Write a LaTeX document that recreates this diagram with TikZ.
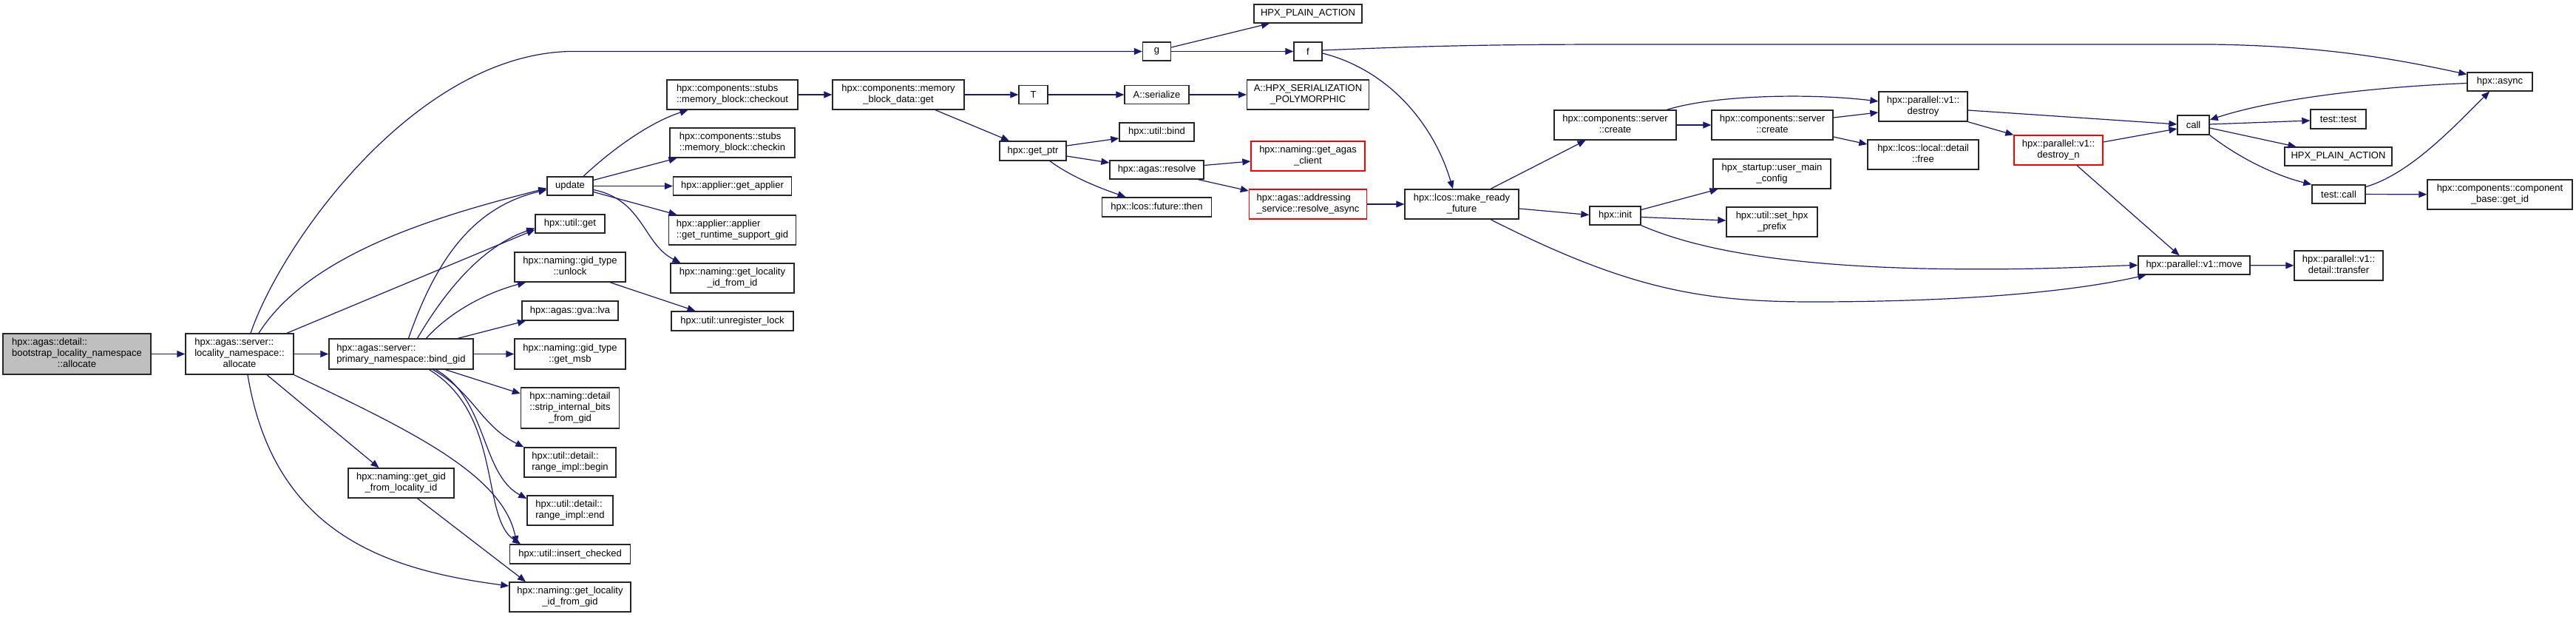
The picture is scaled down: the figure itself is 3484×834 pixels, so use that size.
\documentclass[tikz,border=0pt]{standalone}
\usepackage{fontspec}
\setmainfont{Liberation Sans}
\usetikzlibrary{arrows.meta}
\definecolor{edgec}{RGB}{25,25,112}
\definecolor{rootgray}{RGB}{191,191,191}
\definecolor{trunc}{RGB}{255,0,0}
\newcommand{\ltwo}[2]{\begin{tabular}{@{}l@{}}#1\\\multicolumn{1}{@{}c@{}}{#2}\end{tabular}}
\newcommand{\lthree}[3]{\begin{tabular}{@{}l@{}}#1\\#2\\\multicolumn{1}{@{}c@{}}{#3}\end{tabular}}
\begin{document}
\begin{tikzpicture}[x=1pt,y=-1pt,
  nd/.style={draw=black!85, line width=1.4pt, fill=white, inner sep=0pt, rectangle,
    font=\fontsize{13}{15}\selectfont},
  wh/.style 2 args={minimum width=#1pt, minimum height=#2pt},
  red/.style={draw=trunc},
  ed/.style={draw=edgec, line width=1.2pt, -{Triangle[length=11pt,width=9pt]}, fill=none}]
\useasboundingbox (0,0) rectangle (3484,834);
% nodes
\node[nd, wh={200}{55}, fill=rootgray] (root) at (104,478.5) {\lthree{hpx::agas::detail::}{bootstrap\_locality\_namespace}{::allocate}};
\node[nd, wh={146}{55}] (loc) at (324,478.5) {\lthree{hpx::agas::server::}{locality\_namespace::}{allocate}};
\node[nd, wh={195}{41}] (bind) at (542.5,478.5) {\ltwo{hpx::agas::server::}{primary\_namespace::bind\_gid}};
\node[nd, wh={143}{40}] (ggfl) at (542.5,653) {\ltwo{hpx::naming::get\_gid}{\_from\_locality\_id}};
\node[nd, wh={62}{25}] (update) at (771,251.5) {update};
\node[nd, wh={94}{25}] (uget) at (771,302.5) {hpx::util::get};
\node[nd, wh={150}{40}] (unlock) at (771,361) {\ltwo{hpx::naming::gid\_type}{::unlock}};
\node[nd, wh={130}{26}] (lva) at (771,420) {hpx::agas::gva::lva};
\node[nd, wh={150}{41}] (getmsb) at (771,478.5) {\ltwo{hpx::naming::gid\_type}{::get\_msb}};
\node[nd, wh={133}{55}] (strip) at (771,551.5) {\lthree{hpx::naming::detail}{::strip\_internal\_bits}{\_from\_gid}};
\node[nd, wh={124}{40}] (rbegin) at (771,625) {\ltwo{hpx::util::detail::}{range\_impl::begin}};
\node[nd, wh={116}{40}] (rend) at (771,690) {\ltwo{hpx::util::detail::}{range\_impl::end}};
\node[nd, wh={163}{26}] (insck) at (771,749) {hpx::util::insert\_checked};
\node[nd, wh={164}{40}] (glfg) at (771,807) {\ltwo{hpx::naming::get\_locality}{\_id\_from\_gid}};
\node[nd, wh={177}{40}] (checkout) at (990.5,128) {\ltwo{hpx::components::stubs}{::memory\_block::checkout}};
\node[nd, wh={169}{40}] (checkin) at (990.5,193) {\ltwo{hpx::components::stubs}{::memory\_block::checkin}};
\node[nd, wh={160}{25}] (getapp) at (990.5,251.5) {hpx::applier::get\_applier};
\node[nd, wh={172}{40}] (rsg) at (990.5,311) {\ltwo{hpx::applier::applier}{::get\_runtime\_support\_gid}};
\node[nd, wh={167}{40}] (glfi) at (990.5,376) {\ltwo{hpx::naming::get\_locality}{\_id\_from\_id}};
\node[nd, wh={165}{26}] (unreg) at (990.5,434) {hpx::util::unregister\_lock};
\node[nd, wh={178}{40}] (mbd) at (1215,128) {\ltwo{hpx::components::memory}{\_block\_data::get}};
\node[nd, wh={39}{25}] (T) at (1397.5,128) {T};
\node[nd, wh={90}{26}] (getptr) at (1397,204) {hpx::get\_ptr};
\node[nd, wh={38}{25}] (g) at (1564.5,69.5) {g};
\node[nd, wh={87}{25}] (aser) at (1564.5,128) {A::serialize};
\node[nd, wh={101}{25}] (bindb) at (1564.5,178.5) {hpx::util::bind};
\node[nd, wh={127}{25}] (resolve) at (1564.5,229.5) {hpx::agas::resolve};
\node[nd, wh={148}{26}] (then) at (1564.5,280) {hpx::lcos::future::then};
\node[nd, wh={146}{25}] (plainA) at (1769,18.5) {HPX\_PLAIN\_ACTION};
\node[nd, wh={38}{25}] (f) at (1769,69.5) {f};
\node[nd, wh={165}{40}] (poly) at (1769,128) {\ltwo{A::HPX\_SERIALIZATION}{\_POLYMORPHIC}};
\node[nd, red, wh={154}{40}] (agasc) at (1769,211) {\ltwo{hpx::naming::get\_agas}{\_client}};
\node[nd, red, wh={159}{40}] (rasync) at (1769,276) {\ltwo{hpx::agas::addressing}{\_service::resolve\_async}};
\node[nd, wh={154}{40}] (mrf) at (1977,276) {\ltwo{hpx::lcos::make\_ready}{\_future}};
\node[nd, wh={165}{40}] (createA) at (2184.5,169) {\ltwo{hpx::components::server}{::create}};
\node[nd, wh={69}{25}] (init) at (2184.5,291.5) {hpx::init};
\node[nd, wh={164}{40}] (createB) at (2397,169) {\ltwo{hpx::components::server}{::create}};
\node[nd, wh={159}{40}] (umc) at (2396.5,235) {\ltwo{hpx\_startup::user\_main}{\_config}};
\node[nd, wh={123}{40}] (shp) at (2396.5,300) {\ltwo{hpx::util::set\_hpx}{\_prefix}};
\node[nd, wh={120}{40}] (destroy) at (2601,144) {\ltwo{hpx::parallel::v1::}{destroy}};
\node[nd, wh={150}{40}] (free) at (2601,209) {\ltwo{hpx::lcos::local::detail}{::free}};
\node[nd, red, wh={120}{40}] (destroyn) at (2784,203) {\ltwo{hpx::parallel::v1::}{destroy\_n}};
\node[nd, wh={151}{25}] (move) at (2967.5,358.5) {hpx::parallel::v1::move};
\node[nd, wh={43}{26}] (call) at (2966.5,169) {call};
\node[nd, wh={75}{26}] (ttest) at (3162.5,161) {test::test};
\node[nd, wh={145}{25}] (plainB) at (3162.5,211.5) {HPX\_PLAIN\_ACTION};
\node[nd, wh={72}{25}] (tcall) at (3163,262.5) {test::call};
\node[nd, wh={120}{40}] (transfer) at (3163,359) {\ltwo{hpx::parallel::v1::}{detail::transfer}};
\node[nd, wh={88}{25}] (async) at (3381,110.5) {hpx::async};
\node[nd, wh={196}{40}] (getid) at (3381,263) {\ltwo{hpx::components::component}{\_base::get\_id}};
% edges
\draw[ed] (root) -- (loc);
\draw[ed] (loc) -- (bind);
\draw[ed] ([xshift=15pt]loc.north) .. controls (380,330) and (560,75) .. (770,69.5) -- (g.west);
\draw[ed] ([xshift=26pt]loc.north) .. controls (420,340) and (600,290) .. ([yshift=-3pt]update.west);
\draw[ed] ([xshift=64pt]loc.north) -- ([yshift=-8pt]uget.west);
\draw[ed] ([xshift=37pt]loc.south) -- ([xshift=-30pt]ggfl.north);
\draw[ed] (loc.south east) .. controls (550,580) and (680,640) .. ([xshift=-72pt]insck.north);
\draw[ed] ([xshift=11pt]loc.south) .. controls (370,720) and (520,770) .. ([yshift=15pt]glfg.west);
\draw[ed] ([xshift=22pt]ggfl.south) -- ([xshift=-60pt]glfg.north);
\draw[ed] ([xshift=10pt]bind.north) .. controls (590,350) and (640,280) .. ([yshift=-5pt]update.west);
\draw[ed] ([xshift=22pt]bind.north) .. controls (610,380) and (660,330) .. ([yshift=-6pt]uget.west);
\draw[ed] ([xshift=34pt]bind.north) .. controls (610,420) and (660,395) .. ([xshift=-60pt]unlock.south);
\draw[ed] ([xshift=77pt]bind.north) -- ([xshift=-60pt]lva.south);
\draw[ed] (bind) -- (getmsb);
\draw[ed] ([xshift=60pt]bind.south) -- ([yshift=19.5pt]strip.west);
\draw[ed] ([xshift=43pt]bind.south) .. controls (640,530) and (650,575) .. (rbegin.north west);
\draw[ed] ([xshift=47pt]bind.south) .. controls (660,540) and (650,640) .. ([yshift=16pt]rend.west);
\draw[ed] ([xshift=38pt]bind.south) .. controls (680,560) and (650,700) .. ([xshift=-67pt]insck.north);
\draw[ed] ([xshift=18pt]update.north) .. controls (830,200) and (880,165) .. ([xshift=-60pt]checkout.south);
\draw[ed] ([yshift=8pt]update.east) -- ([xshift=-75pt]checkin.south);
\draw[ed] (update) -- (getapp);
\draw[ed] ([yshift=-8pt]update.east) -- ([xshift=-75pt]rsg.north);
\draw[ed] ([yshift=-5pt]update.east) .. controls (870,270) and (870,330) .. ([xshift=-70pt]glfi.north);
\draw[ed] ([xshift=54pt]unlock.south) -- ([xshift=-50pt]unreg.north);
\draw[ed] (checkout) -- (mbd);
\draw[ed] (mbd) -- (T);
\draw[ed] ([xshift=50pt]mbd.south) -- ([xshift=-32pt]getptr.north);
\draw[ed] (T) -- (aser);
\draw[ed] (aser) -- (poly);
\draw[ed] ([yshift=7pt]getptr.east) -- ([yshift=-8.5pt]bindb.west);
\draw[ed] ([yshift=-7pt]getptr.east) -- ([yshift=9.5pt]resolve.west);
\draw[ed] ([xshift=23pt]getptr.south) .. controls (1450,240) and (1490,255) .. ([xshift=-42pt]then.north);
\draw[ed] ([yshift=6pt]resolve.east) -- ([yshift=-7pt]agasc.west);
\draw[ed] ([xshift=56pt]resolve.south) -- ([yshift=18pt]rasync.west);
\draw[ed] (rasync) -- (mrf);
\draw[ed] ([yshift=5.5pt]g.east) -- ([xshift=-52pt]plainA.south);
\draw[ed] (g) -- (f);
\draw[ed] ([yshift=1.5pt]f.east) .. controls (1950,61) and (2050,60) .. (2200,60) -- (2990,60) .. controls (3150,62) and (3250,82) .. ([yshift=10pt]async.west);
\draw[ed] ([yshift=-2.5pt]f.east) .. controls (1880,95) and (1940,170) .. ([xshift=-12pt]mrf.north);
\draw[ed] ([xshift=39pt]mrf.north) -- ([xshift=-40pt]createA.south);
\draw[ed] ([yshift=-6pt]mrf.east) -- ([yshift=1pt]init.west);
\draw[ed] ([xshift=39pt]mrf.south) .. controls (2200,390) and (2300,408) .. (2450,408) .. controls (2650,408) and (2800,395) .. ([xshift=-65pt]move.south);
\draw[ed] (createA) -- (createB);
\draw[ed] ([xshift=70pt]createA.north) .. controls (2320,128) and (2450,126) .. ([yshift=7pt]destroy.west);
\draw[ed] ([yshift=10pt]createB.east) -- ([yshift=-8pt]destroy.west);
\draw[ed] ([yshift=-16pt]createB.east) -- ([yshift=14pt]free.west);
\draw[ed] ([yshift=-5pt]destroy.east) -- ([yshift=1pt]call.west);
\draw[ed] (destroy.south east) -- (destroyn.north west);
\draw[ed] ([yshift=11pt]destroyn.east) -- ([yshift=-5pt]call.west);
\draw[ed] ([xshift=25pt]destroyn.south) -- ([xshift=-20pt]move.north);
\draw[ed] ([yshift=8pt]init.east) -- ([xshift=-73pt]umc.south);
\draw[ed] ([yshift=-2pt]init.east) -- ([yshift=2pt]shp.west);
\draw[ed] (init.south east) .. controls (2290,335) and (2400,358) .. (2600,363) .. controls (2750,366) and (2830,360) .. (move.west);
\draw[ed] ([yshift=1pt]call.east) -- ([yshift=-2pt]ttest.west);
\draw[ed] ([yshift=-4pt]call.east) -- ([xshift=-57pt]plainB.north);
\draw[ed] (call.south east) .. controls (3030,215) and (3080,238) .. (tcall.north west);
\draw[ed] ([yshift=-2pt]async.west) .. controls (3200,118) and (3070,135) .. ([yshift=7pt]call.east);
\draw[ed] ([yshift=10pt]tcall.east) .. controls (3260,235) and (3320,170) .. ([xshift=-14pt]async.south);
\draw[ed] (tcall) -- (getid);
\draw[ed] (move) -- (transfer);
\end{tikzpicture}
\end{document}
